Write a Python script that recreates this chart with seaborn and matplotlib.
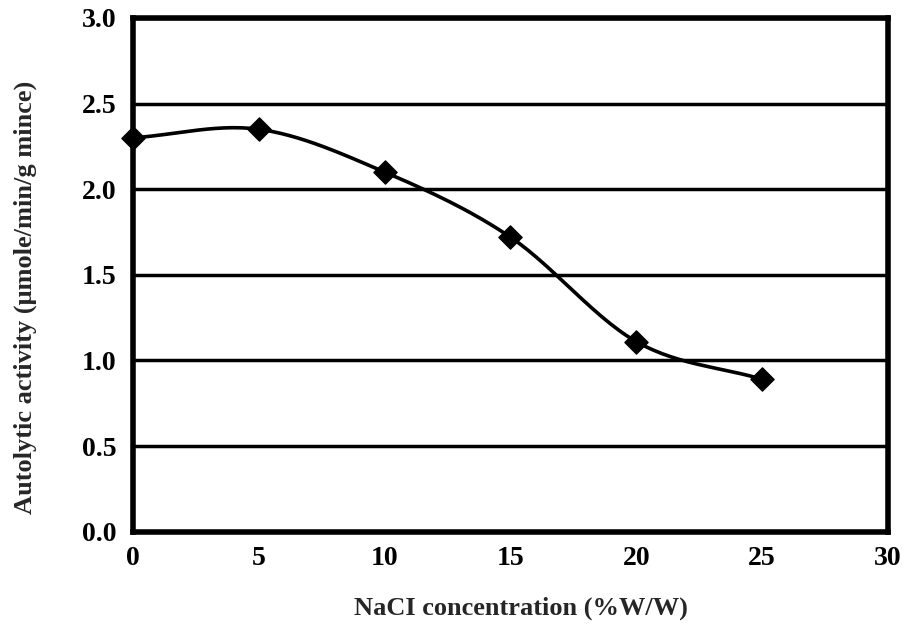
import numpy as np
import pandas as pd
import matplotlib
matplotlib.use('Agg')
import matplotlib.pyplot as plt
import seaborn as sns

# Values
nacl = [0, 5, 10, 15, 20, 25]
activity = [2.30, 2.35, 2.10, 1.72, 1.11, 0.89]
x_ticks = [0, 5, 10, 15, 20, 25, 30]
y_ticks = [0.0, 0.5, 1.0, 1.5, 2.0, 2.5, 3.0]

df = pd.DataFrame({'nacl': nacl, 'activity': activity})


def smooth(xs, ys, n=30):
    # Catmull-Rom style smoothing, like a spreadsheet "smoothed line"
    xs = np.asarray(xs, float)
    ys = np.asarray(ys, float)
    px = np.concatenate([[2 * xs[0] - xs[1]], xs, [2 * xs[-1] - xs[-2]]])
    py = np.concatenate([[2 * ys[0] - ys[1]], ys, [2 * ys[-1] - ys[-2]]])
    out_x, out_y = [], []
    t = np.linspace(0, 1, n)
    for i in range(1, len(px) - 2):
        for p, out in ((px, out_x), (py, out_y)):
            p0, p1, p2, p3 = p[i - 1], p[i], p[i + 1], p[i + 2]
            seg = 0.5 * ((2 * p1) + (-p0 + p2) * t
                         + (2 * p0 - 5 * p1 + 4 * p2 - p3) * t ** 2
                         + (-p0 + 3 * p1 - 3 * p2 + p3) * t ** 3)
            out.extend(seg)
    return np.array(out_x), np.array(out_y)


sns.set_style('white')
plt.rcParams['font.family'] = ['Liberation Serif', 'DejaVu Serif']
plt.rcParams['font.weight'] = 'bold'

fig = plt.figure(figsize=(9.09, 6.3), dpi=100)
ax = fig.add_axes([0.1463, 0.156, 0.8306, 0.8155])

sx, sy = smooth(df['nacl'], df['activity'])
sns.lineplot(x=sx, y=sy, ax=ax, color='black', linewidth=2.6, sort=False)
sns.scatterplot(data=df, x='nacl', y='activity', ax=ax, marker='D', s=140,
                color='black', edgecolor='black', zorder=5, clip_on=False)

ax.set_xlim(0, 30)
ax.set_ylim(0, 3.0)
ax.set_xticks(x_ticks)
ax.set_yticks(y_ticks)
ax.set_yticklabels([f'{v:.1f}' for v in y_ticks])
ax.grid(axis='y', color='black', linewidth=2.5)
ax.grid(axis='x', visible=False)
ax.set_axisbelow(True)

for s in ax.spines.values():
    s.set_visible(True)
    s.set_color('black')
    s.set_linewidth(4)

ax.tick_params(axis='both', which='major', direction='out', length=6, width=3,
               colors='black', labelsize=20, pad=6)
ax.tick_params(axis='x', length=4, pad=6)

ax.set_xlabel('NaCI concentration (%W/W)', fontsize=19, fontweight='bold')
ax.set_ylabel('Autolytic activity (\u03bcmole/min/g mince)', fontsize=19,
              fontweight='bold')
ax.xaxis.set_label_coords(0.514, -0.15, transform=ax.transAxes)
ax.xaxis.label.set_va('center')
ax.yaxis.set_label_coords(-0.143, 0.456, transform=ax.transAxes)
ax.yaxis.label.set_va('center')

fig.savefig('out.png', dpi=100)
